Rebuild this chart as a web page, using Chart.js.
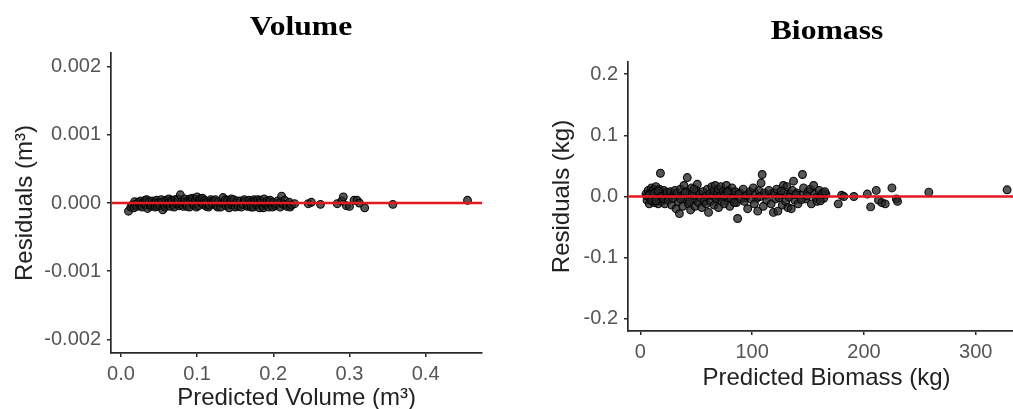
<!DOCTYPE html>
<html><head><meta charset="utf-8">
<script src="https://cdn.jsdelivr.net/npm/chart.js@4.4.1/dist/chart.umd.min.js"></script>
<style>
html,body{margin:0;padding:0;background:#fff;overflow:hidden;width:1013px;height:409px;position:relative;}
.panel{position:absolute;top:0;}
.ttl{position:absolute;font-family:"Liberation Serif","Times New Roman",serif;font-weight:bold;font-size:28px;line-height:28px;color:#000;white-space:nowrap;transform:translateX(-50%) scaleX(1.13);}
</style></head><body>
<div class="panel" style="left:0;width:500px;height:420px"><canvas id="c1" width="500" height="420"></canvas></div>
<div class="panel" style="left:520px;width:505px;height:420px"><canvas id="c2" width="505" height="420"></canvas></div>
<div class="ttl" style="left:301px;top:12px">Volume</div>
<div class="ttl" style="left:827px;top:16px">Biomass</div>
<script>
// ---------- Volume data: [predicted volume (m³), residual (m³)] ----------
const volumePoints = [
[0.010,-12e-5],[0.013,-6e-5],[0.015,-3e-5],[0.017,-7e-5],[0.018,2e-5],[0.019,-2e-5],[0.021,-5e-5],[0.023,1e-5],[0.025,-4e-5],[0.026,3e-5],
[0.027,-1e-5],[0.028,-6e-5],[0.030,0],[0.032,4e-5],[0.033,-3e-5],[0.034,5e-5],[0.035,-8e-5],[0.037,2e-5],[0.039,-5e-5],[0.040,-3e-5],
[0.041,3e-5],[0.043,-2e-5],[0.044,1e-5],[0.045,-6e-5],[0.047,4e-5],[0.048,-5e-5],[0.049,0],[0.051,-4e-5],[0.053,5e-5],[0.054,1e-5],
[0.055,-10e-5],[0.057,-3e-5],[0.058,-6e-5],[0.059,4e-5],[0.061,-2e-5],[0.062,0],[0.063,6e-5],[0.065,-5e-5],[0.066,4e-5],[0.067,2e-5],
[0.069,-3e-5],[0.070,-6e-5],[0.071,5e-5],[0.073,-1e-5],[0.074,2e-5],[0.075,6e-5],[0.077,-4e-5],[0.078,12e-5],[0.079,-2e-5],[0.080,2e-5],
[0.082,-5e-5],[0.083,1e-5],[0.084,6e-5],[0.086,-2e-5],[0.087,-5e-5],[0.088,4e-5],[0.090,-6e-5],[0.091,6e-5],[0.092,3e-5],[0.094,7e-5],
[0.095,-1e-5],[0.096,-3e-5],[0.098,5e-5],[0.099,-6e-5],[0.100,9e-5],[0.102,-4e-5],[0.103,3e-5],[0.104,6e-5],[0.106,1e-5],[0.107,7e-5],
[0.108,-2e-5],[0.110,4e-5],[0.111,0],[0.112,-5e-5],[0.114,2e-5],[0.115,-6e-5],[0.116,-3e-5],[0.118,5e-5],[0.119,2e-5],[0.120,-1e-5],
[0.122,3e-5],[0.124,5e-5],[0.125,-4e-5],[0.127,-6e-5],[0.128,2e-5],[0.131,-6e-5],[0.133,0],[0.134,8e-5],[0.136,1e-5],[0.137,5e-5],
[0.138,-4e-5],[0.140,4e-5],[0.141,-2e-5],[0.142,-7e-5],[0.144,2e-5],[0.145,6e-5],[0.146,-3e-5],[0.148,5e-5],[0.149,-3e-5],[0.150,-6e-5],
[0.152,0],[0.153,3e-5],[0.154,-5e-5],[0.157,3e-5],[0.158,-6e-5],[0.160,-2e-5],[0.162,5e-5],[0.163,2e-5],[0.166,-5e-5],[0.167,-3e-5],
[0.168,4e-5],[0.170,-1e-5],[0.171,-6e-5],[0.172,3e-5],[0.174,-6e-5],[0.175,5e-5],[0.176,2e-5],[0.178,-3e-5],[0.179,0],[0.180,5e-5],
[0.182,-7e-5],[0.183,4e-5],[0.184,1e-5],[0.186,-4e-5],[0.187,-7e-5],[0.188,6e-5],[0.190,-2e-5],[0.191,0],[0.192,3e-5],[0.194,-6e-5],
[0.195,1e-5],[0.196,4e-5],[0.198,-3e-5],[0.199,-6e-5],[0.200,1e-5],[0.203,-4e-5],[0.205,-1e-5],[0.206,3e-5],[0.209,-6e-5],[0.210,2e-5],
[0.211,10e-5],[0.213,-2e-5],[0.215,4e-5],[0.216,-2e-5],[0.218,-5e-5],[0.221,1e-5],[0.222,-6e-5],[0.224,-3e-5],[0.228,-1e-5],[0.246,-1e-5],
[0.250,1e-5],[0.262,-2e-5],[0.284,-1e-5],[0.290,3e-5],[0.292,9e-5],[0.296,-4e-5],[0.300,-5e-5],[0.306,4e-5],[0.310,4e-5],[0.313,0],
[0.320,-7e-5],[0.357,-2e-5],[0.455,4e-5]
];
const volXRange = [-0.013, 0.474];
const volYRange = [-0.0022, 0.0022];
const volXTicks = [0, 0.1, 0.2, 0.3, 0.4];
const volXLabels = ["0.0", "0.1", "0.2", "0.3", "0.4"];
const volYTicks = [-0.002, -0.001, 0, 0.001, 0.002];
const volYLabels = ["-0.002", "-0.001", "0.000", "0.001", "0.002"];

// ---------- Biomass data: [predicted biomass (kg), residual (kg)] ----------
const biomassPoints = [
[5,0.004],[6,-0.006],[7,0.010],[7,0.000],[8,-0.012],[9,0.006],[9,-0.004],[10,0.014],[10,0.002],[11,-0.008],
[11,0.008],[12,-0.002],[12,0.012],[13,0.004],[13,-0.010],[14,0.000],[14,0.016],[15,-0.006],[15,0.008],[16,0.002],
[16,-0.012],[17,0.012],[17,-0.003],[18,0.038],[18,0.006],[19,-0.008],[20,0.002],[21,0.010],[22,-0.012],[23,0.004],
[6,0.001],[8,0.003],[10,-0.006],[12,0.005],[14,-0.007],[16,0.009],[19,0.000],[21,-0.004],[24,0.007],[26,-0.001],
[25,-0.006],[27,0.008],[28,-0.014],[30,0.002],[31,0.010],[32,-0.020],[33,0.006],[34,-0.008],[35,-0.028],[36,0.012],
[37,0.000],[38,-0.016],[39,0.018],[40,-0.004],[41,0.008],[42,0.031],[43,-0.012],[44,0.004],[45,-0.022],[46,0.014],
[47,-0.006],[48,0.002],[49,-0.016],[50,0.010],[51,0.020],[52,-0.010],[53,0.004],[55,-0.018],[56,0.008],[58,0.000],
[29,-0.003],[36,-0.004],[40,0.006],[44,-0.008],[48,0.012],[54,-0.003],[57,-0.008],[63,0.001],[67,-0.002],[72,0.003],
[59,-0.012],[60,0.012],[61,-0.026],[62,0.004],[63,-0.008],[64,0.016],[65,0.002],[66,-0.014],[66,0.010],[67,0.018],
[68,-0.004],[69,0.006],[70,-0.018],[70,0.012],[71,0.000],[72,0.016],[73,-0.008],[74,0.008],[75,-0.012],[76,0.004],
[77,0.018],[78,-0.002],[79,0.010],[80,-0.016],[81,0.006],[82,0.014],[83,-0.006],[84,0.002],[85,0.008],[86,-0.010],
[75,0.001],[78,0.007],[81,-0.003],[84,-0.010],[89,0.006],[94,-0.002],[97,0.004],[104,-0.003],[112,0.002],[118,0.005],
[87,-0.036],[88,0.004],[90,-0.004],[92,0.012],[93,-0.008],[95,0.002],[96,-0.020],[98,0.008],[99,-0.004],[101,0.014],
[102,-0.012],[103,0.004],[105,-0.024],[106,0.010],[107,0.000],[108,0.022],[109,0.036],[110,-0.016],[111,0.006],[113,-0.006],
[115,0.010],[117,-0.012],[119,-0.026],[120,0.006],[121,-0.004],[122,0.012],[123,-0.024],[125,0.002],[127,-0.014],[128,0.018],
[129,0.008],[130,-0.008],[131,0.016],[132,-0.018],[134,0.004],[135,-0.020],[136,0.010],[137,0.025],[138,-0.006],[140,0.006],
[141,-0.012],[143,0.002],[145,0.036],[146,0.014],[148,-0.004],[150,0.008],[152,0.012],[153,-0.012],[155,0.018],[156,0.004],
[124,-0.002],[126,0.009],[133,-0.001],[139,0.003],[144,-0.005],[149,0.001],[157,-0.002],[162,0.002],[164,-0.003],[166,0.004],
[158,-0.008],[160,0.010],[161,-0.007],[163,0.006],[165,0.008],[177,-0.012],[180,0.002],[182,0.000],[191,0.000],[203,0.004],
[206,-0.017],[211,0.010],[213,-0.006],[216,-0.010],[219,-0.012],[225,0.014],[229,-0.004],[230,-0.008],[258,0.007],[328,0.011]
];
const bioXRange = [-11, 344];
const bioYRange = [-0.22, 0.22];
const bioXTicks = [0, 100, 200, 300];
const bioXLabels = ["0", "100", "200", "300"];
const bioYTicks = [-0.2, -0.1, 0, 0.1, 0.2];
const bioYLabels = ["-0.2", "-0.1", "0.0", "0.1", "0.2"];

const SANS = '"Liberation Sans", Arial, sans-serif';

function makePanel(canvasId, o) {
  const tickFont = {family: SANS, size: 20};
  const titleFont = {family: SANS, size: 24};
  const axisCommon = {
    type: 'linear',
    grid: {drawOnChartArea: false, drawTicks: true, tickLength: 4, color: '#2a2a2a', lineWidth: 1.5},
    border: {display: true, color: '#2a2a2a', width: 1.7},
  };
  new Chart(document.getElementById(canvasId), {
    data: {
      datasets: [
        {
          type: 'line', order: 0,
          data: [{x: o.xRange[0], y: 0}, {x: o.xRange[1], y: 0}],
          borderColor: '#e3191f', borderWidth: 2.6, pointRadius: 0, fill: false
        },
        {
          type: 'scatter', order: 1,
          data: o.points.map(p => ({x: p[0], y: p[1]})),
          backgroundColor: 'rgba(40,40,40,0.78)', borderColor: 'rgba(0,0,0,0.92)',
          borderWidth: 1.1, pointRadius: 3.9
        }
      ]
    },
    options: {
      responsive: false, animation: false, devicePixelRatio: 1,
      layout: {autoPadding: false, padding: {left: 0, top: o.top, right: o.right, bottom: 0}},
      plugins: {legend: {display: false}, tooltip: {enabled: false}},
      scales: {
        x: Object.assign({}, axisCommon, {
          position: 'bottom', min: o.xRange[0], max: o.xRange[1],
          afterBuildTicks: s => { s.ticks = o.xTicks.map(v => ({value: v})); },
          afterFit: s => { s.height = o.xHeight; },
          ticks: {autoSkip: false, maxRotation: 0, color: '#555', font: tickFont, padding: 5,
                  callback: v => o.xLabels[o.xTicks.indexOf(v)]},
          title: {display: true, text: o.xTitle, color: '#222', font: titleFont, padding: {top: 0, bottom: o.xTitlePad}}
        }),
        y: Object.assign({}, axisCommon, {
          position: 'left', min: o.yRange[0], max: o.yRange[1],
          afterBuildTicks: s => { s.ticks = o.yTicks.map(v => ({value: v})); },
          afterFit: s => { s.width = o.yWidth; },
          ticks: {autoSkip: false, color: '#555', font: tickFont, padding: 6,
                  callback: v => o.yLabels[o.yTicks.indexOf(v)]},
          title: {display: true, text: o.yTitle, color: '#222', font: titleFont, padding: {top: o.yTitlePad, bottom: 0}}
        })
      }
    }
  });
}

makePanel('c1', {
  points: volumePoints, xRange: volXRange, yRange: volYRange,
  xTicks: volXTicks, xLabels: volXLabels, yTicks: volYTicks, yLabels: volYLabels,
  xTitle: 'Predicted Volume (m³)', yTitle: 'Residuals (m³)',
  top: 53, right: 18, xHeight: 67, yWidth: 111, xTitlePad: 7, yTitlePad: 11
});
makePanel('c2', {
  points: biomassPoints, xRange: bioXRange, yRange: bioYRange,
  xTicks: bioXTicks, xLabels: bioXLabels, yTicks: bioYTicks, yLabels: bioYLabels,
  xTitle: 'Predicted Biomass (kg)', yTitle: 'Residuals (kg)',
  top: 62, right: 0, xHeight: 89, yWidth: 108, xTitlePad: 27, yTitlePad: 28
});
</script>
</body></html>
